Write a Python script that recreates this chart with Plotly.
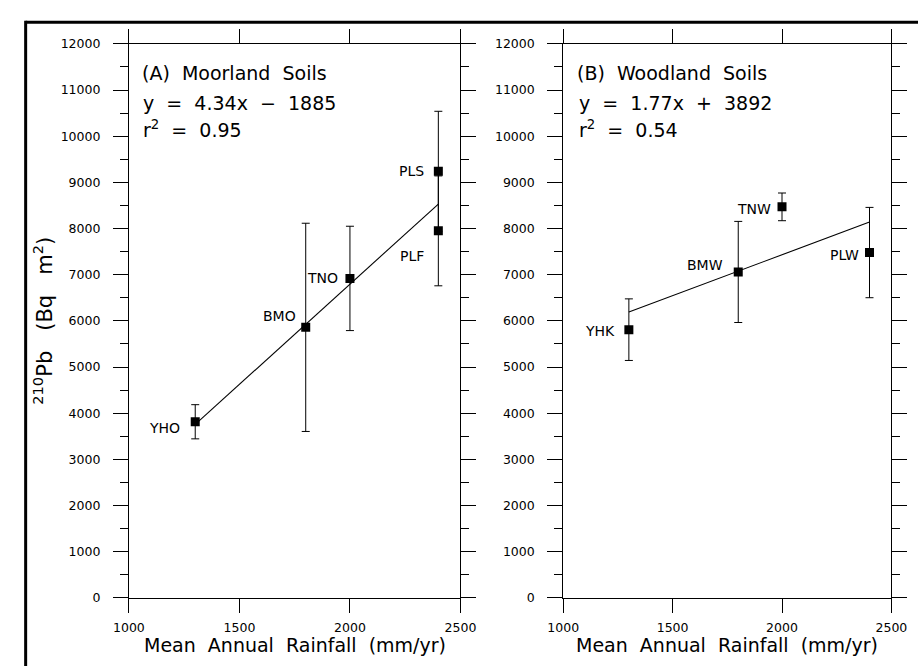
import plotly.graph_objects as go

# Moorland soils (panel A)
sites_a = ["YHO", "BMO", "TNO", "PLS", "PLF"]
rain_a = [1300, 1800, 2000, 2400, 2400]
pb_a = [3815, 5860, 6920, 9240, 7950]
err_a = [370, 2255, 1130, 1300, 1190]
fit_a = (4.34, -1885, 0.95)

# Woodland soils (panel B)
sites_b = ["YHK", "BMW", "TNW", "PLW"]
rain_b = [1300, 1800, 2000, 2400]
pb_b = [5810, 7060, 8470, 7480]
err_b = [667, 1095, 300, 978]
fit_b = (1.77, 3892, 0.54)

x_ticks = [1000, 1500, 2000, 2500]
y_ticks = list(range(0, 12001, 1000))

W, H = 918, 666
FONT = "DejaVu Sans"
NB = "\u00a0"
SP = NB + NB

# label offsets in pixels (right edge / vertical centre relative to the marker)
label_shift = {
    "YHO": (-13, -6), "BMO": (-8, 11), "TNO": (-10, 0), "PLS": (-12, 0), "PLF": (-12, -25),
    "YHK": (-12, -1), "BMW": (-13, 7), "TNW": (-9, -2), "PLW": (-9, -2),
}

def px_x(p):
    return p / W

def px_y(p):
    return 1 - p / H

fig = go.Figure()

def add_panel(sites, rain, pb, err, fit, xa, ya):
    slope, icpt, r2 = fit
    x0, x1 = min(rain), max(rain)
    fig.add_trace(go.Scatter(
        x=[x0, x1], y=[slope * x0 + icpt, slope * x1 + icpt],
        mode="lines", line=dict(color="black", width=1.1),
        xaxis=xa, yaxis=ya, showlegend=False, hoverinfo="skip"))
    fig.add_trace(go.Scatter(
        x=rain, y=pb, mode="markers",
        marker=dict(symbol="square", size=9, color="black"),
        error_y=dict(type="data", array=err, visible=True, color="black",
                     thickness=1, width=4),
        xaxis=xa, yaxis=ya, showlegend=False, text=sites))
    for s, xv, yv in zip(sites, rain, pb):
        dx, dy = label_shift[s]
        fig.add_annotation(x=xv, y=yv, xref=xa, yref=ya, text=s, showarrow=False,
                           xanchor="right", yanchor="middle", xshift=dx, yshift=dy,
                           font=dict(family=FONT, size=14, color="black"))

add_panel(sites_a, rain_a, pb_a, err_a, fit_a, "x", "y")
add_panel(sites_b, rain_b, pb_b, err_b, fit_b, "x2", "y2")

def eq_text(slope, icpt):
    sign = "+" if icpt >= 0 else "\u2212"
    return f"y{SP}={SP}{slope:.2f}x{SP}{sign}{SP}{abs(icpt):d}"

panel_text = [
    (128, "(A)" + SP + "Moorland" + SP + "Soils", fit_a),
    (579, "(B)" + SP + "Woodland" + SP + "Soils", fit_b),
]
for left, title, (slope, icpt, r2) in panel_text:
    fig.add_annotation(x=px_x(left), y=px_y(67), xref="paper", yref="paper",
                       text=title, showarrow=False, xanchor="left", yanchor="middle",
                       font=dict(family=FONT, size=19, color="black"))
    fig.add_annotation(x=px_x(left + 2), y=px_y(97), xref="paper", yref="paper",
                       text=eq_text(slope, icpt), showarrow=False, xanchor="left",
                       yanchor="middle", font=dict(family=FONT, size=19, color="black"))
    fig.add_annotation(x=px_x(left + 2), y=px_y(124), xref="paper", yref="paper",
                       text=f"r<sup>2</sup>{SP}={SP}{r2:.2f}", showarrow=False,
                       xanchor="left", yanchor="middle",
                       font=dict(family=FONT, size=19, color="black"))

# axis titles
for cx in ((117 + 460.5) / 2, (567 + 907) / 2):
    fig.add_annotation(x=px_x(cx), y=px_y(652), xref="paper", yref="paper",
                       text="Mean" + SP + "Annual" + SP + "Rainfall" + SP + "(mm/yr)",
                       showarrow=False, xanchor="center", yanchor="middle",
                       font=dict(family=FONT, size=19, color="black"))
SP3 = NB * 3
fig.add_annotation(x=px_x(28), y=px_y(320), xref="paper", yref="paper",
                   text="<sup>210</sup>Pb" + SP3 + "(Bq" + SP3 + "m<sup>2</sup>)",
                   textangle=-90, showarrow=False, xanchor="center", yanchor="middle",
                   font=dict(family=FONT, size=21, color="black"))

axis_common = dict(showgrid=False, zeroline=False, showline=True, linecolor="black",
                   linewidth=1, mirror="ticks", ticks="outside", tickcolor="black",
                   tickwidth=1, ticklabeloverflow="allow",
                   tickfont=dict(family=FONT, size=12.5, color="black"))

xdom_a = [px_x(117), px_x(460.5)]
xdom_b = [px_x(567), px_x(907)]
ydom = [px_y(603.5), px_y(36.7)]

xa_kw = dict(axis_common, range=[1000, 2500], tickvals=x_ticks, ticklen=14,
             tickformat="d", ticklabelstandoff=4)
ya_kw = dict(axis_common, range=[0, 12000], tickvals=y_ticks, ticklen=15,
             tickformat="d", ticklabelstandoff=10,
             minor=dict(tickvals=[v + 500 for v in y_ticks[:-1]], ticklen=8,
                        ticks="outside", tickcolor="black", tickwidth=1))

fig.update_layout(
    width=W, height=H, margin=dict(l=0, r=0, t=0, b=0),
    paper_bgcolor="white", plot_bgcolor="white",
    xaxis=dict(xa_kw, domain=xdom_a, anchor="y"),
    yaxis=dict(ya_kw, domain=ydom, anchor="x"),
    xaxis2=dict(xa_kw, domain=xdom_b, anchor="y2"),
    yaxis2=dict(ya_kw, domain=ydom, anchor="x2"),
    shapes=[
        dict(type="line", xref="paper", yref="paper", x0=px_x(10), x1=1.05,
             y0=px_y(14.5), y1=px_y(14.5), line=dict(color="black", width=3)),
        dict(type="line", xref="paper", yref="paper", x0=px_x(10), x1=px_x(10),
             y0=px_y(13), y1=-0.05, line=dict(color="black", width=3)),
    ],
)

fig.write_html("out.html")
